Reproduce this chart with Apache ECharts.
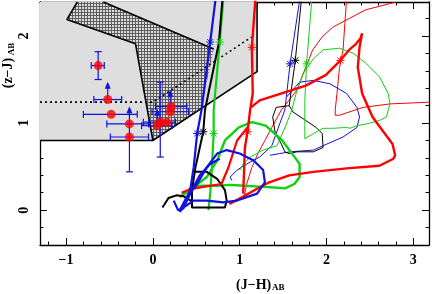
<!DOCTYPE html>
<html><head><meta charset="utf-8">
<script src="https://cdn.jsdelivr.net/npm/echarts@6/dist/echarts.min.js"></script>
<style>html,body{margin:0;padding:0;background:#fff}#c{width:432px;height:294px}</style>
</head><body><div id="c"></div>
<script>
// ---- axes / ticks ----
const xMajorTicks = [-1, 0, 1, 2, 3];
const xMinorTicks = [-1.2, -0.8, -0.6, -0.4, -0.2, 0.2, 0.4, 0.6, 0.8, 1.2, 1.4, 1.6, 1.8, 2.2, 2.4, 2.6, 2.8];
const yMajorTicks = [0, 1, 2];
const yMinorTicks = [-0.2, 0.2, 0.4, 0.6, 0.8, 1.2, 1.4, 1.6, 1.8, 2.2];

// ---- selection regions ----
const grayRegion = [[-1.3, 0.8], [0, 0.8], [1.2, 1.59], [1.2, 2.39], [-1.3, 2.39]];
const grayBorder = [[-1.3, 0.8], [0, 0.8], [1.2, 1.59], [1.2, 2.39]];
const hatchRegion = [[-0.99, 2.19], [-0.87, 2.39], [-0.57, 2.39], [0.70, 1.85], [0.56, 1.18], [0, 0.8], [-0.20, 1.91]];
const hatchBorderA = [[-0.87, 2.39], [-0.99, 2.19], [-0.20, 1.91], [0, 0.8]];
const hatchBorderB = [[-0.57, 2.39], [0.70, 1.85]];
const dottedCut = [[-1.3, 1.24], [0, 1.24], [1.14, 1.99]];

// ---- data points (red) with blue error bars ----
const ptX = [-0.63, -0.52, -0.48, -0.27, -0.27, 0.05, 0.085, 0.20, 0.21, 0.16];
const ptY = [1.66, 1.27, 1.10, 0.99, 0.84, 0.97, 1.01, 1.13, 1.19, 1.01];
const errXLo = [-0.71, -0.68, -0.80, -0.53, -0.49, -0.13, -0.11, -0.01, 0.03, null];
const errXHi = [-0.56, -0.36, -0.18, -0.05, -0.05, 0.22, 0.26, 0.41, 0.39, null];
const errYLo = [1.50, null, null, null, 0.44, null, 0.61, null, null, null];
const errYHi = [1.82, 1.45, null, 1.17, 0.99, 1.14, 1.47, 1.36, null, null];
const errYArrow = [0, 1, 0, 1, 0, 1, 0, 1, 0, 0];

// ---- model tracks ----
const blueThick = [[0.72,2.41],[0.66,1.93],[0.56,1.15],[0.51,0.88],[0.47,0.49],[0.43,0.23],[0.37,0.11],[0.31,-0.02],[0.35,0.03],[0.47,0.11],[0.62,0.11],[0.81,0.09],[0.97,0.11],[1.20,0.19],[1.29,0.32],[1.27,0.46],[1.16,0.57],[1.00,0.65],[0.85,0.69],[0.74,0.65],[0.62,0.49],[0.51,0.30],[0.39,0.15],[0.31,0.00]];
const blueThick2 = [[0.24,0.11],[0.29,0.00],[0.35,0.02],[0.45,0.23],[0.54,0.40],[0.66,0.53],[0.77,0.59]];
const blackThick = [[0.80,2.41],[0.76,1.92],[0.60,1.15],[0.58,0.90],[0.49,0.49],[0.45,0.23],[0.45,0.03],[0.83,0.03],[0.85,0.11],[0.83,0.23],[0.74,0.36],[0.62,0.44],[0.47,0.44]];
const blackThick2 = [[0.11,0.03],[0.18,0.14],[0.27,0.17],[0.35,0.16],[0.45,0.10]];
const greenThick = [[0.81,2.41],[0.77,1.93],[0.70,1.15],[0.70,0.88],[0.68,0.49],[0.66,0.19],[0.64,0.00]];
const greenLoop = [[0.31,0.15],[0.43,0.25],[0.56,0.28],[0.73,0.28],[0.89,0.29],[1.05,0.28],[1.23,0.27],[1.40,0.26],[1.52,0.25],[1.63,0.30],[1.69,0.38],[1.69,0.53],[1.61,0.64],[1.49,0.80],[1.30,0.97],[1.14,1.01],[0.99,0.95],[0.83,0.80],[0.74,0.57],[0.62,0.38],[0.43,0.23],[0.31,0.15]];
const redThick = [[1.18,2.41],[1.14,1.87],[1.15,1.34],[1.12,1.15],[1.09,0.90],[1.06,0.72],[1.05,0.45],[1.04,0.19]];
const redThickB = [[1.09,0.95],[0.97,0.80],[0.87,0.49],[0.79,0.30],[0.60,0.27],[0.43,0.24],[0.33,0.20]];
const redCurve = [[1.13,1.18],[1.23,1.26],[1.42,1.32],[1.61,1.38],[1.76,1.43],[1.99,1.55],[2.16,1.72],[2.26,1.84],[2.34,1.91],[2.39,1.97],[2.41,2.03],[2.38,1.87],[2.36,1.64],[2.41,1.34],[2.53,1.07],[2.64,0.92],[2.76,0.76],[2.79,0.63],[2.77,0.59],[2.61,0.51],[2.23,0.48],[1.85,0.44],[1.57,0.40],[1.34,0.32],[1.19,0.24],[1.03,0.15],[0.88,0.07]];
const thinRed1 = [[2.23,2.41],[2.19,1.84],[2.15,1.64],[2.12,1.34],[2.10,1.15],[2.10,1.09],[2.15,1.09],[2.42,1.18],[2.73,1.22],[3.19,1.24]];
const thinRed2 = [[2.80,2.39],[2.45,2.30],[2.26,2.20],[2.07,2.10],[1.95,1.99],[1.84,1.84],[1.76,1.64],[1.66,1.38],[1.48,1.15],[1.37,0.95],[1.29,0.80],[1.21,0.65],[1.14,0.49],[1.08,0.30],[1.05,0.15]];
const thinBlue = [[1.69,2.41],[1.58,1.68],[1.52,1.15],[1.46,0.99],[1.37,0.74],[1.23,0.61],[1.08,0.53],[0.97,0.46],[0.89,0.38],[0.91,0.34]];
const thinBlueLoop = [[1.54,1.30],[1.69,1.47],[1.85,1.49],[2.04,1.45],[2.23,1.34],[2.35,1.18],[2.38,1.07],[2.35,0.95],[2.19,0.84],[1.96,0.74],[1.85,0.69],[1.58,0.67],[1.46,0.65],[1.35,0.63]];
const thinBlack = [[1.71,2.41],[1.64,1.72],[1.57,1.20],[1.61,1.13],[1.76,1.03],[1.88,0.95],[1.95,0.88],[1.96,0.72],[1.85,0.67],[1.66,0.67],[1.57,0.65],[1.52,0.67],[1.48,0.76],[1.41,0.88],[1.38,1.07],[1.42,1.18],[1.57,1.20]];
const thinGreen = [[1.83,2.41],[1.77,1.68],[1.75,1.26],[1.75,0.82],[1.85,0.88],[1.96,0.94],[2.08,0.94],[2.23,0.95],[2.27,0.94],[2.35,0.97],[2.46,0.99],[2.61,1.03],[2.69,1.07],[2.71,1.15],[2.73,1.22],[2.71,1.34],[2.61,1.53],[2.46,1.68],[2.31,1.80],[2.15,1.86],[1.96,1.84],[1.85,1.74],[1.73,1.57],[1.66,1.38],[1.60,1.15],[1.53,0.97],[1.43,0.74],[1.27,0.69],[1.12,0.61],[1.04,0.53],[1.00,0.46]];

// ---- asterisk markers on tracks ----
const astX = [0.66, 0.77, 1.14, 0.51, 0.58, 0.70, 1.09, 1.58, 1.64, 1.77, 2.16];
const astY = [1.93, 1.93, 1.87, 0.88, 0.90, 0.88, 0.90, 1.68, 1.72, 1.68, 1.72];
const astColor = ['#1010e0', '#10d010', '#ff0000', '#1010e0', '#000000', '#10d010', '#ff0000', '#1010e0', '#000000', '#10d010', '#ff0000'];

const BLUE = '#1010e0', GREEN = '#10d010', RED = '#ff0000', BLACK = '#000000';

// hatch pattern
const pat = document.createElement('canvas');
pat.width = 3; pat.height = 3;
const pg = pat.getContext('2d');
pg.fillStyle = '#dcdcdc'; pg.fillRect(0, 0, 3, 3);
pg.fillStyle = '#5e5e5e'; pg.fillRect(0, 0, 3, 1); pg.fillRect(0, 0, 1, 3);

const chart = echarts.init(document.getElementById('c'), null, {renderer: 'canvas'});
const FONT = 'Liberation Serif';
const fmt = v => (v < 0 ? '\u2212' + Math.abs(v) : String(v));

function xAx(pos, ticks, len, main, label) {
  return {type: 'value', min: -1.3, max: 3.18, position: pos, gridIndex: 0,
    axisLine: {show: main, onZero: false, lineStyle: {color: '#000', width: 1.3}},
    axisTick: {show: true, inside: true, length: len, customValues: ticks, lineStyle: {color: '#000', width: 1}},
    axisLabel: {show: label, customValues: ticks, formatter: fmt, margin: 8, color: '#000', fontFamily: FONT, fontWeight: 'bold', fontSize: 14},
    splitLine: {show: false}};
}
function yAx(pos, ticks, len, main, label) {
  return {type: 'value', min: -0.4, max: 2.39, position: pos, gridIndex: 0,
    axisLine: {show: main, onZero: false, lineStyle: {color: '#000', width: 1.3}},
    axisTick: {show: true, inside: true, length: len, customValues: ticks, lineStyle: {color: '#000', width: 1}},
    axisLabel: {show: label, customValues: ticks, formatter: fmt, rotate: 90, margin: 9, color: '#000', fontFamily: FONT, fontWeight: 'bold', fontSize: 14},
    splitLine: {show: false}};
}

function lineS(data, color, width, z, type) {
  return {type: 'line', data: data, xAxisIndex: 0, yAxisIndex: 0, showSymbol: false, symbol: 'none', z: z || 3,
    lineStyle: {color: color, width: width, type: type || 'solid'}, silent: true, animation: false, clip: true};
}
function polyS(points, fill, z) {
  return {type: 'custom', xAxisIndex: 0, yAxisIndex: 0, z: z, data: [points[0]], animation: false, silent: true, clip: true,
    renderItem: (params, api) => ({type: 'polygon', shape: {points: points.map(p => api.coord(p))}, style: {fill: fill, stroke: null}})};
}

const series = [
  polyS(grayRegion, '#dedede', 1),
  polyS(hatchRegion, {image: pat, repeat: 'repeat'}, 1),
  lineS(grayBorder, BLACK, 1.6, 2),
  lineS(hatchBorderA, BLACK, 1.6, 2),
  lineS(hatchBorderB, BLACK, 1.6, 2),
  lineS(dottedCut, BLACK, 1.6, 2, [2, 3]),
  lineS(thinRed1, RED, 1, 3),
  lineS(thinRed2, RED, 1, 3),
  lineS(thinBlue, BLUE, 1, 3),
  lineS(thinBlueLoop, BLUE, 1, 3),
  lineS(thinBlack, BLACK, 1, 3),
  lineS(thinGreen, GREEN, 1, 3),
  lineS(greenLoop, GREEN, 2.4, 4),
  lineS(greenThick, GREEN, 2.2, 4),
  lineS(blackThick, BLACK, 2, 4),
  lineS(blackThick2, BLACK, 2, 4),
  lineS(redThick, RED, 2.4, 4),
  lineS(redThickB, RED, 2.2, 4),
  lineS(redCurve, RED, 2.4, 4),
  lineS(blueThick, BLUE, 2.2, 5),
  lineS(blueThick2, BLUE, 2.2, 5),
  {type: 'custom', xAxisIndex: 0, yAxisIndex: 0, z: 6, animation: false, silent: true,
    data: astX.map((x, i) => [x, astY[i]]),
    renderItem: (params, api) => {
      const c = api.coord([api.value(0), api.value(1)]);
      const col = astColor[params.dataIndex], r = 4;
      const st = {stroke: col, lineWidth: 1};
      return {type: 'group', children: [
        {type: 'line', shape: {x1: c[0] - r, y1: c[1], x2: c[0] + r, y2: c[1]}, style: st},
        {type: 'line', shape: {x1: c[0], y1: c[1] - r, x2: c[0], y2: c[1] + r}, style: st},
        {type: 'line', shape: {x1: c[0] - r * 0.75, y1: c[1] - r * 0.75, x2: c[0] + r * 0.75, y2: c[1] + r * 0.75}, style: st},
        {type: 'line', shape: {x1: c[0] - r * 0.75, y1: c[1] + r * 0.75, x2: c[0] + r * 0.75, y2: c[1] - r * 0.75}, style: st}
      ]};
    }},
  {type: 'custom', xAxisIndex: 0, yAxisIndex: 0, z: 7, animation: false, silent: true,
    data: ptX.map((x, i) => [x, ptY[i]]),
    renderItem: (params, api) => {
      const i = params.dataIndex;
      const st = {stroke: BLUE, lineWidth: 1.2};
      const ch = [];
      const cap = 3.5;
      if (errXLo[i] !== null) {
        const a = api.coord([errXLo[i], ptY[i]]), b = api.coord([errXHi[i], ptY[i]]);
        ch.push({type: 'line', shape: {x1: a[0], y1: a[1], x2: b[0], y2: b[1]}, style: st});
        ch.push({type: 'line', shape: {x1: a[0], y1: a[1] - cap, x2: a[0], y2: a[1] + cap}, style: st});
        ch.push({type: 'line', shape: {x1: b[0], y1: b[1] - cap, x2: b[0], y2: b[1] + cap}, style: st});
      }
      const lo = errYLo[i] !== null ? errYLo[i] : ptY[i];
      const hi = errYHi[i] !== null ? errYHi[i] : ptY[i];
      if (lo !== hi) {
        const a = api.coord([ptX[i], lo]), b = api.coord([ptX[i], hi]);
        ch.push({type: 'line', shape: {x1: a[0], y1: a[1], x2: b[0], y2: b[1]}, style: st});
        if (errYLo[i] !== null) ch.push({type: 'line', shape: {x1: a[0] - cap, y1: a[1], x2: a[0] + cap, y2: a[1]}, style: st});
        if (errYHi[i] !== null) {
          if (errYArrow[i]) {
            ch.push({type: 'polygon', shape: {points: [[b[0] - 3, b[1] + 5], [b[0] + 3, b[1] + 5], [b[0], b[1] - 2]]}, style: {fill: BLUE}});
          } else {
            ch.push({type: 'line', shape: {x1: b[0] - cap, y1: b[1], x2: b[0] + cap, y2: b[1]}, style: st});
          }
        }
      }
      return {type: 'group', children: ch};
    }},
  {type: 'scatter', xAxisIndex: 0, yAxisIndex: 0, z: 8, animation: false, silent: true,
    data: ptX.map((x, i) => [x, ptY[i]]), symbol: 'circle', symbolSize: 9,
    itemStyle: {color: RED, borderWidth: 0}}
];

chart.setOption({
  animation: false,
  backgroundColor: '#ffffff',
  grid: {left: 40, right: 3, top: 2, bottom: 49, containLabel: false},
  xAxis: [xAx('bottom', xMajorTicks, 7, true, true), xAx('bottom', xMinorTicks, 3.5, false, false),
          xAx('top', xMajorTicks, 7, true, false), xAx('top', xMinorTicks, 3.5, false, false)],
  yAxis: [yAx('left', yMajorTicks, 7, true, true), yAx('left', yMinorTicks, 3.5, false, false),
          yAx('right', yMajorTicks, 7, true, false), yAx('right', yMinorTicks, 3.5, false, false)],
  graphic: [
    {type: 'text', x: 236, y: 285, silent: true, style: {text: '(J\u2212H)', fill: '#000', font: 'bold 14px "Liberation Serif"', verticalAlign: 'middle', align: 'left'}},
    {type: 'text', x: 272, y: 288, silent: true, style: {text: 'AB', fill: '#000', font: 'bold 9px "Liberation Serif"', verticalAlign: 'middle', align: 'left'}},
    {type: 'text', x: 8, y: 73, rotation: Math.PI / 2, silent: true, style: {text: '(z\u2212J)', fill: '#000', font: 'bold 14px "Liberation Serif"', verticalAlign: 'middle', align: 'center'}},
    {type: 'text', x: 12, y: 49, rotation: Math.PI / 2, silent: true, style: {text: 'AB', fill: '#000', font: 'bold 9px "Liberation Serif"', verticalAlign: 'middle', align: 'center'}}
  ],
  series: series
});
</script>
</body></html>
